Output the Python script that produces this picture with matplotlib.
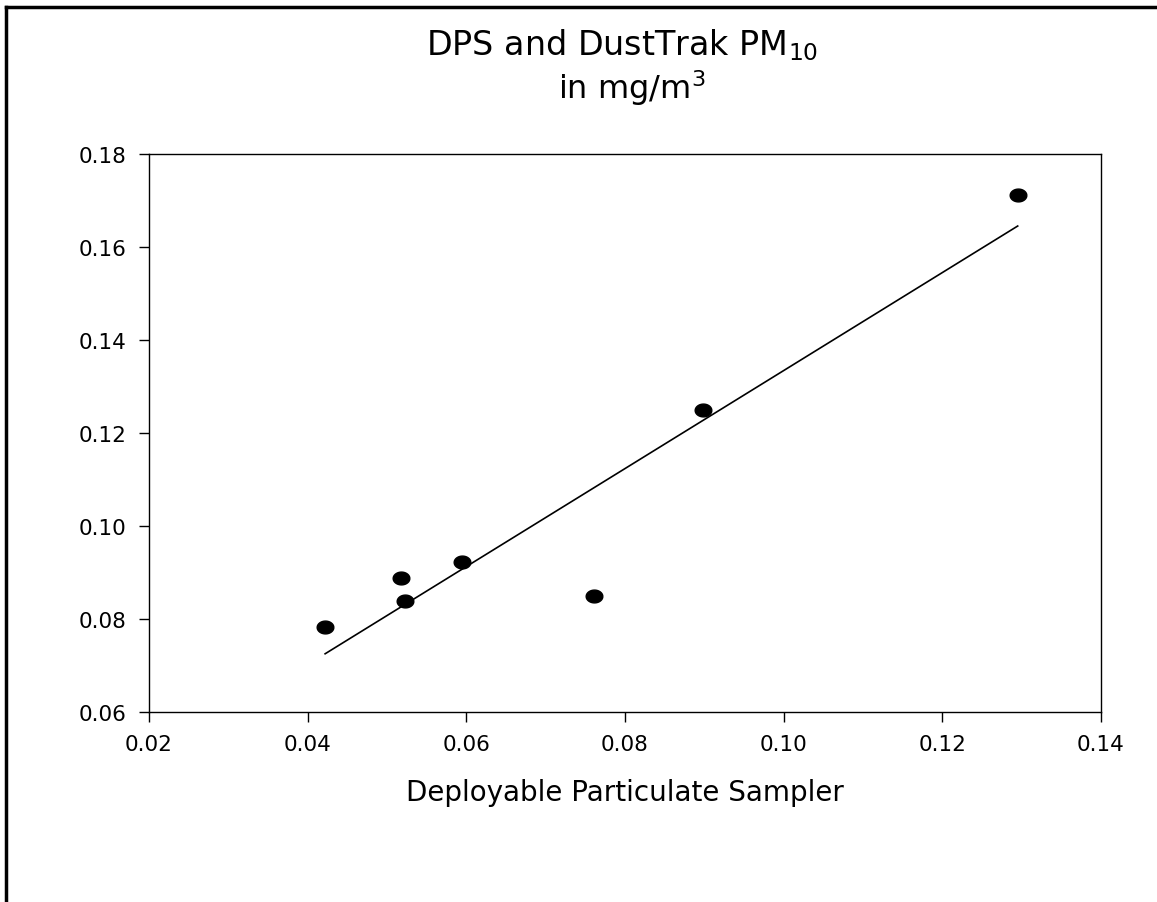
import numpy as np
import matplotlib.pyplot as plt
from matplotlib.lines import Line2D

plt.rcParams['font.family'] = ['DejaVu Sans']

# DPS (x) vs DustTrak (y), PM10 in mg/m3
dps = [0.0422, 0.0518, 0.0523, 0.0595, 0.0761, 0.0898, 0.1295]
dusttrak = [0.0783, 0.0888, 0.0839, 0.0923, 0.0850, 0.1250, 0.1712]

x_ticks = [0.02, 0.04, 0.06, 0.08, 0.10, 0.12, 0.14]
y_ticks = [0.06, 0.08, 0.10, 0.12, 0.14, 0.16, 0.18]


def main():

    fig = plt.figure(figsize=(11.57, 9.03), dpi=100)
    ax = fig.add_axes([149 / 1157, 1 - 713 / 903, (1101 - 149) / 1157, (713 - 155) / 903])

    # page frame (left and top edges visible)
    fig.add_artist(Line2D([6 / 1157, 6 / 1157], [0, 1 - 8 / 903], color='k', lw=2.5,
                          transform=fig.transFigure))
    fig.add_artist(Line2D([6 / 1157, 1], [1 - 8 / 903, 1 - 8 / 903], color='k', lw=2.5,
                          transform=fig.transFigure))

    # slightly flattened dot, like the original
    t = np.linspace(0, 2 * np.pi, 60)
    ellipse = list(zip(1.3 * np.cos(t), np.sin(t)))
    ax.plot(dps, dusttrak, linestyle='none', marker=ellipse, ms=12, color='k', zorder=3)

    slope, intercept = np.polyfit(dps, dusttrak, 1)
    xs = np.array([min(dps), max(dps)])
    ax.plot(xs, slope * xs + intercept, color='k', lw=1.2)

    ax.set_xlim(0.02, 0.14)
    ax.set_ylim(0.06, 0.18)
    ax.set_xticks(x_ticks)
    ax.set_yticks(y_ticks)
    ax.set_xticklabels(['%.2f' % v for v in x_ticks])
    ax.set_yticklabels(['%.2f' % v for v in y_ticks])
    ax.tick_params(direction='out', length=7, width=1, labelsize=15.5, pad=9)

    for s in ax.spines.values():
        s.set_linewidth(1)

    ax.set_xlabel('Deployable Particulate Sampler', fontsize=20, labelpad=17)

    fig.text(622 / 1157, 1 - 45 / 903, 'DPS and DustTrak PM$_{10}$', fontsize=24,
             ha='center', va='center')
    fig.text(632 / 1157, 1 - 88 / 903, 'in mg/m$^{3}$', fontsize=23,
             ha='center', va='center')

    fig.savefig('out.png', dpi=100)


if __name__ == '__main__':
    main()
